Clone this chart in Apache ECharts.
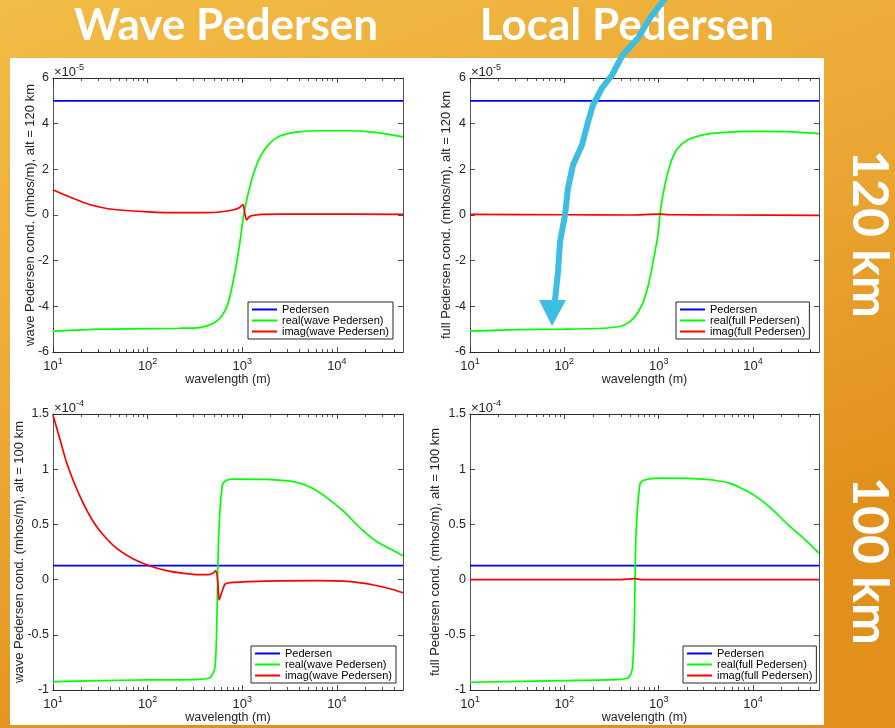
<!DOCTYPE html>
<html><head><meta charset="utf-8">
<script src="https://cdn.jsdelivr.net/npm/echarts@6/dist/echarts.min.js"></script>
<style>html,body{margin:0;padding:0;background:#eaa52c}#c{width:895px;height:728px}</style>
</head><body><div id="c"></div><script>
// ---------------- data ----------------
const wlRange = [10, 50000];
const xMajorTicks = [10, 100, 1000, 10000];
const xMinorTicks = [20,30,40,50,60,70,80,90,200,300,400,500,600,700,800,900,2000,3000,4000,5000,6000,7000,8000,9000,20000,30000,40000];
const pedersen120 = 5.0;     // x1e-5
const pedersen100 = 0.127;   // x1e-4

// 120 km, wave Pedersen (x1e-5)
const tlRealWl  = [10, 31, 100, 219, 355, 490, 603, 708, 794, 871, 944, 1023, 1110, 1203, 1358, 1585, 1950, 2500, 3750, 6650, 12600, 24000, 50000];
const tlRealVal = [-5.09, -5.0, -4.98, -4.96, -4.93, -4.75, -4.45, -3.87, -2.99, -2.12, -1.20, -0.15, 0.62, 1.24, 1.97, 2.63, 3.14, 3.46, 3.63, 3.69, 3.69, 3.63, 3.42];
const tlImagWl  = [10, 13.8, 20.9, 30.9, 46.8, 100, 219, 490, 794, 930, 1023, 1060, 1110, 1200, 1400, 1600, 5000, 50000];
const tlImagVal = [1.11, 0.85, 0.55, 0.35, 0.23, 0.14, 0.10, 0.11, 0.22, 0.32, 0.46, 0.10, -0.21, -0.06, 0.0, 0.03, 0.04, 0.03];

// 120 km, full Pedersen (x1e-5)
const trRealWl  = [10, 31, 100, 282, 427, 537, 661, 776, 871, 977, 1047, 1175, 1349, 1585, 1995, 3020, 4571, 10233, 23442, 50000];
const trRealVal = [-5.09, -5.02, -5.0, -4.95, -4.83, -4.54, -3.96, -3.08, -2.06, -0.93, 0.23, 1.40, 2.32, 2.91, 3.27, 3.52, 3.61, 3.66, 3.65, 3.56];
const trImagWl  = [10, 100, 500, 1000, 1300, 5000, 50000];
const trImagVal = [0.03, 0.01, 0.0, 0.04, 0.01, 0.0, -0.02];

// 100 km, wave Pedersen (x1e-4)
const blRealWl  = [10, 31, 100, 355, 457, 513, 537, 562, 617, 684, 803, 1807, 3467, 5248, 7762, 11885, 17800, 26600, 40000, 50000];
const blRealVal = [-0.924, -0.915, -0.909, -0.903, -0.888, -0.803, -0.44, 0.375, 0.857, 0.90, 0.911, 0.908, 0.887, 0.836, 0.745, 0.615, 0.465, 0.343, 0.262, 0.217];
const blImagWl  = [10, 11.9, 14.0, 17.1, 20.9, 26.7, 34, 47.1, 70.8, 106, 159, 240, 360, 457, 501, 525, 550, 569, 611, 661, 803, 1807, 6166, 13960, 24500, 37150, 50000];
const blImagVal = [1.49, 1.264, 1.053, 0.857, 0.691, 0.524, 0.404, 0.283, 0.187, 0.123, 0.081, 0.057, 0.045, 0.048, 0.063, 0.081, -0.004, -0.185, -0.11, -0.04, -0.025, -0.013, -0.01, -0.019, -0.049, -0.085, -0.119];

// 100 km, full Pedersen (x1e-4)
const brRealWl  = [10, 100, 389, 479, 525, 550, 575, 631, 692, 1047, 1995, 2900, 3890, 5370, 7413, 10233, 15488, 23442, 34674, 50000];
const brRealVal = [-0.93, -0.915, -0.903, -0.888, -0.81, -0.44, 0.41, 0.86, 0.90, 0.92, 0.917, 0.91, 0.90, 0.878, 0.83, 0.765, 0.648, 0.497, 0.372, 0.24];
const brImagWl  = [10, 400, 560, 650, 50000];
const brImagVal = [0.0, 0.0, 0.008, 0.0, 0.0];

// ---------------- chart ----------------
const FONT = '"Liberation Sans", Arial, Helvetica, sans-serif';
const AX = '#262626';
const pairs = (xs, ys) => xs.map((x, i) => [x, ys[i]]);

const panels = [
  {left:53, top:78, width:350, height:274, yMin:-6, yMax:6, yInt:2, nameGap:16, exp:'-5', kind:'wave',
   yName:'wave Pedersen cond. (mhos/m), alt = 120 km', ped:pedersen120, real:[tlRealWl, tlRealVal], imag:[tlImagWl, tlImagVal], lg:[248, 302]},
  {left:470, top:78, width:349, height:274, yMin:-6, yMax:6, yInt:2, nameGap:17, exp:'-5', kind:'full',
   yName:'full Pedersen cond. (mhos/m), alt = 120 km', ped:pedersen120, real:[trRealWl, trRealVal], imag:[trImagWl, trImagVal], lg:[676, 302]},
  {left:53, top:414, width:350, height:276, yMin:-1, yMax:1.5, yInt:0.5, nameGap:27, exp:'-4', kind:'wave',
   yName:'wave Pedersen cond. (mhos/m), alt = 100 km', ped:pedersen100, real:[blRealWl, blRealVal], imag:[blImagWl, blImagVal], lg:[251, 646]},
  {left:470, top:414, width:349, height:276, yMin:-1, yMax:1.5, yInt:0.5, nameGap:28, exp:'-4', kind:'full',
   yName:'full Pedersen cond. (mhos/m), alt = 100 km', ped:pedersen100, real:[brRealWl, brRealVal], imag:[brImagWl, brImagVal], lg:[683, 646]}
];

const grids = [], xAxes = [], yAxes = [], series = [], legends = [], graphics = [];

graphics.push({type:'rect', z:-20, shape:{x:0, y:0, width:895, height:728}, silent:true,
  style:{fill:{type:'linear', x:0, y:0, x2:0.3, y2:1, colorStops:[{offset:0, color:'#f2bc45'}, {offset:0.5, color:'#eca936'}, {offset:1, color:'#e0901b'}]}}});
graphics.push({type:'rect', z:-19, shape:{x:10, y:58, width:814, height:667}, silent:true, style:{fill:'#ffffff'}});

panels.forEach((p, g) => {
  grids.push({left:p.left, top:p.top, width:p.width, height:p.height, containLabel:false});
  const axLine = {show:true, onZero:false, lineStyle:{color:AX, width:0.8}};
  const baseX = {type:'log', logBase:10, min:wlRange[0], max:wlRange[1], gridIndex:g, splitLine:{show:false},
    axisLine:axLine, axisLabel:{show:false}};
  const majT = {show:true, inside:true, length:5, lineStyle:{color:AX, width:0.8}, customValues:xMajorTicks};
  const minT = {show:true, inside:true, length:3, lineStyle:{color:AX, width:0.8}, customValues:xMinorTicks};
  xAxes.push(Object.assign({}, baseX, {position:'bottom', axisTick:majT,
    axisLabel:{show:true, customValues:xMajorTicks, margin:5,
      formatter: v => '{b|10}{s|' + Math.round(Math.log10(v)) + '}',
      rich:{b:{fontSize:13, fontFamily:FONT, color:AX, verticalAlign:'bottom'},
            s:{fontSize:9, fontFamily:FONT, color:AX, verticalAlign:'top', padding:[0,0,7,0]}}},
    name:'wavelength (m)', nameLocation:'middle', nameGap:21, nameMoveOverlap:false,
    nameTextStyle:{fontSize:12.5, fontFamily:FONT, color:AX}}));
  xAxes.push(Object.assign({}, baseX, {position:'bottom', axisTick:minT}));
  xAxes.push(Object.assign({}, baseX, {position:'top', axisTick:majT}));
  xAxes.push(Object.assign({}, baseX, {position:'top', axisTick:minT}));

  yAxes.push({type:'value', gridIndex:g, position:'left', min:p.yMin, max:p.yMax, interval:p.yInt,
    splitLine:{show:false}, axisLine:axLine,
    axisTick:{show:true, inside:true, length:5, lineStyle:{color:AX, width:0.8}},
    axisLabel:{fontSize:12.5, fontFamily:FONT, color:AX, margin:4},
    name:p.yName, nameLocation:'middle', nameGap:p.nameGap, nameMoveOverlap:false,
    nameTextStyle:{fontSize:13, fontFamily:FONT, color:AX}});
  yAxes.push({type:'value', gridIndex:g, position:'right', min:p.yMin, max:p.yMax, interval:p.yInt,
    splitLine:{show:false}, axisLine:axLine,
    axisTick:{show:true, inside:true, length:5, lineStyle:{color:AX, width:0.8}},
    axisLabel:{show:false}});

  const realName = 'real(' + p.kind + ' Pedersen)';
  const imagName = 'imag(' + p.kind + ' Pedersen)';
  const common = {type:'line', xAxisIndex:4*g, yAxisIndex:2*g, symbol:'none', animation:false, silent:true};
  series.push(Object.assign({}, common, {name:'Pedersen', data:[[wlRange[0], p.ped], [wlRange[1], p.ped]],
    lineStyle:{color:'#0000ff', width:1.7}, itemStyle:{color:'#0000ff'}}));
  series.push(Object.assign({}, common, {name:realName, data:pairs(p.real[0], p.real[1]), smooth:0.25,
    lineStyle:{color:'#00ff00', width:1.7}, itemStyle:{color:'#00ff00'}}));
  series.push(Object.assign({}, common, {name:imagName, data:pairs(p.imag[0], p.imag[1]), smooth:0.25,
    lineStyle:{color:'#ff0000', width:1.7}, itemStyle:{color:'#ff0000'}}));

  legends.push({left:p.lg[0], top:p.lg[1], orient:'vertical', itemGap:0, itemWidth:25, itemHeight:2, icon:'rect',
    selectedMode:false, data:['Pedersen', realName, imagName], backgroundColor:'#fff', borderColor:AX, borderWidth:1,
    padding:[2,4,2,4], textStyle:{fontSize:11, fontFamily:FONT, color:'#000', lineHeight:11}});

  graphics.push({type:'text', x:p.left + 1, y:p.top - 7, z:10, silent:true,
    style:{text:'{a|\u00d710}{s|' + p.exp + '}', textVerticalAlign:'middle', textAlign:'left',
      rich:{a:{fontSize:13, fontFamily:FONT, fill:AX, color:AX, verticalAlign:'bottom'},
            s:{fontSize:9, fontFamily:FONT, fill:AX, color:AX, verticalAlign:'top', padding:[0,0,6,0]}}}});
});

// titles and side labels
const TFONT = 'bold 44px Lato, "Open Sans", sans-serif';
graphics.push({type:'text', x:226, y:26, z:10, silent:true, style:{text:'Wave Pedersen', font:TFONT, fill:'#fff', textAlign:'center', textVerticalAlign:'middle'}});
graphics.push({type:'text', x:627, y:26, z:10, silent:true, style:{text:'Local Pedersen', font:TFONT, fill:'#fff', textAlign:'center', textVerticalAlign:'middle'}});
const SFONT = 'bold 50px Lato, "Open Sans", sans-serif';
graphics.push({type:'text', x:869, y:234, rotation:-Math.PI/2, z:10, silent:true, style:{text:'120 km', font:SFONT, fill:'#fff', textAlign:'center', textVerticalAlign:'middle'}});
graphics.push({type:'text', x:869, y:561, rotation:-Math.PI/2, z:10, silent:true, style:{text:'100 km', font:SFONT, fill:'#fff', textAlign:'center', textVerticalAlign:'middle'}});

// hand-drawn blue arrow annotation
graphics.push({type:'polyline', z:100, silent:true,
  shape:{points:[[664,0],[650,18],[638,38],[622,56],[612,75],[602,88],[593,105],[588,122],[582,145],[573,165],[568,188],[565,215],[560,242],[558,272],[555,300]]},
  style:{stroke:'#3dbde2', lineWidth:6, fill:null, lineJoin:'round', lineCap:'round'}});
graphics.push({type:'polygon', z:100, silent:true, shape:{points:[[539,300],[566,300],[552,326]]}, style:{fill:'#3dbde2'}});

const chart = echarts.init(document.getElementById('c'), null, {renderer:'canvas'});
chart.setOption({animation:false, grid:grids, xAxis:xAxes, yAxis:yAxes, series:series, legend:legends, graphic:graphics});
</script></body></html>
